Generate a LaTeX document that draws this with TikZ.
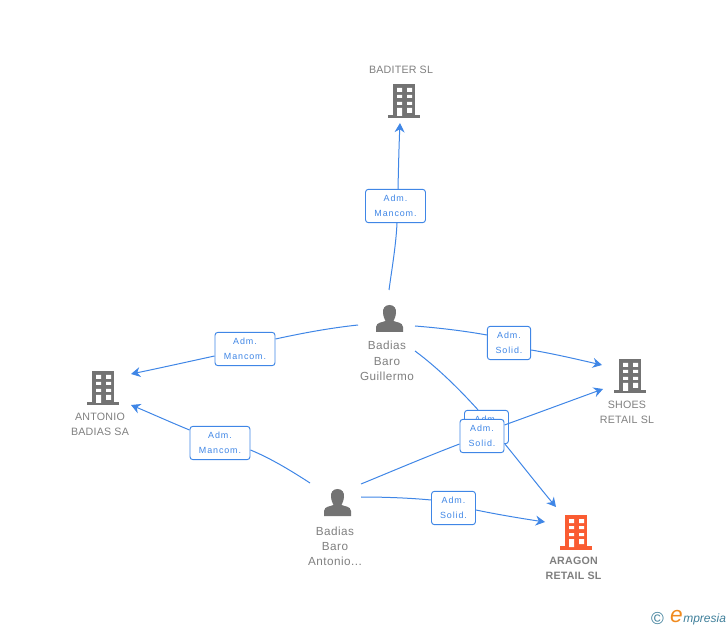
\documentclass[tikz,border=0pt]{standalone}
\usepackage{fontspec}
\setmainfont{Liberation Sans}
\newfontfamily\boxfont[LetterSpace=10]{Liberation Sans}
\newfontfamily\namefont[LetterSpace=2]{Liberation Sans}
\newfontfamily\personfont[LetterSpace=4]{Liberation Sans}
\usetikzlibrary{arrows.meta}
\definecolor{linkblue}{HTML}{3F86E6}
\definecolor{icongray}{HTML}{737373}
\definecolor{textgray}{HTML}{7F7F7F}
\definecolor{iconred}{HTML}{FA5C32}
\definecolor{logoteal}{HTML}{3F7F9A}
\definecolor{logoorange}{HTML}{F08A1E}
\tikzset{
	rolebox/.style={draw=linkblue,fill=white,rounded corners=2.2pt,line width=0.7pt,inner sep=0pt,
		text=linkblue,align=center,font=\boxfont\fontsize{6.7}{11.2}\selectfont},
	nametext/.style={text=textgray,align=center,inner sep=0pt,font=\namefont\fontsize{8}{11.3}\selectfont},
	persontext/.style={text=textgray,align=center,inner sep=0pt,font=\personfont\fontsize{8.8}{11.4}\selectfont},
	link/.style={draw=linkblue,line width=0.75pt},
	linkto/.style={link,-{Stealth[length=7pt,width=7.5pt]}},
	pics/building/.style={code={
		\fill[#1] (-11,-17) rectangle (11,15);
		\fill[#1] (-16,14) rectangle (16,17.5);
		\fill[white] (-7,-13) rectangle (-2,-9) (3,-13) rectangle (8,-9)
			(-7,-6) rectangle (-2,-3) (3,-6) rectangle (8,-3)
			(-7,1) rectangle (-2,4) (3,1) rectangle (8,4)
			(-7,7) rectangle (-2,15) (3,7) rectangle (8,12);
	}},
	pics/person/.style={code={
		\fill[icongray] (0,-14) .. controls (-5,-14) and (-7,-10) .. (-6.5,-6)
			.. controls (-6,-2) and (-5,0) .. (-4,2)
			.. controls (-7,3.5) and (-13,3) .. (-13.5,8) -- (-13.5,13) -- (13.5,13) -- (13.5,8)
			.. controls (13,3) and (7,3.5) .. (4,2)
			.. controls (5,0) and (6,-2) .. (6.5,-6)
			.. controls (7,-10) and (5,-14) .. (0,-14) -- cycle;
	}}
}
\begin{document}
\begin{tikzpicture}[x=0.75pt,y=-0.75pt]
	\useasboundingbox (0,0) rectangle (728,630);
	% icons
	\pic at (404,101) {building=icongray};
	\pic at (103,388) {building=icongray};
	\pic at (630,376) {building=icongray};
	\pic at (576,532) {building=iconred};
	\pic at (389.5,319) {person};
	\pic at (337.5,503) {person};
	% names
	\node[nametext] (baditer) at (401,70) {BADITER SL};
	\node[nametext] (antonio) at (100,424.5) {ANTONIO\\BADIAS SA};
	\node[nametext] (shoes) at (627,412.5) {SHOES\\RETAIL SL};
	\node[nametext,font=\namefont\fontsize{8}{11.3}\selectfont\bfseries] (aragon) at (573.5,568) {ARAGON\\RETAIL SL};
	\node[persontext] (guillermo) at (387,361) {Badias\\Baro\\Guillermo};
	\node[persontext] (badias) at (335,546.5) {Badias\\Baro\\Antonio...};
	% role boxes
	\node[rolebox,minimum width=45pt,minimum height=25pt] (mancomtop) at (395.5,206) {Adm.\\Mancom.};
	\node[rolebox,minimum width=45pt,minimum height=25pt] (mancomleft) at (245,349) {Adm.\\Mancom.};
	\node[rolebox,minimum width=45pt,minimum height=25pt] (mancomlow) at (220,443) {Adm.\\Mancom.};
	\node[rolebox,minimum width=32.5pt,minimum height=25pt] (solidright) at (509,343) {Adm.\\Solid.};
	\node[rolebox,minimum width=33pt,minimum height=25pt] (solidback) at (486.5,427) {Adm.\\Solid.};
	\node[rolebox,minimum width=33pt,minimum height=25pt] (solidfront) at (482,436) {Adm.\\Solid.};
	\node[rolebox,minimum width=33pt,minimum height=25pt] (solidlow) at (453.5,508) {Adm.\\Solid.};
	% free ends
	\coordinate (gnorth) at (389,290);
	\coordinate (gwest) at (358,325);
	\coordinate (geast) at (415,326);
	\coordinate (gsouth) at (415,351);
	\coordinate (bnorth) at (310,483);
	\coordinate (bsouth) at (361,484);
	\coordinate (beast) at (361,497);
	\coordinate (tobaditer) at (400,123);
	\coordinate (toantonioa) at (131,374);
	\coordinate (toantoniob) at (131,405);
	\coordinate (toshoesa) at (602,365);
	\coordinate (toshoesb) at (603,389);
	\coordinate (toaragona) at (556,507);
	\coordinate (toaragonb) at (545,522);
	% connectors
	\draw[link] (gnorth) .. controls (392,268) and (396,245) .. (397,0|-mancomtop.south);
	\draw[linkto] (398,0|-mancomtop.north) .. controls (398.5,167) and (399,145) .. (tobaditer);
	\draw[link] (gwest) .. controls (330,328) and (303,333) .. (mancomleft.east|-0,339);
	\draw[linkto] (mancomleft.west|-0,356) .. controls (187,362) and (160,368) .. (toantonioa);
	\draw[link] (geast) .. controls (440,328) and (465,331) .. (solidright.west|-0,335);
	\draw[linkto] (solidright.east|-0,350) .. controls (555,354) and (580,360) .. (toshoesa);
	\draw[link] (gsouth) .. controls (438,368) and (460,390) .. (478,0|-solidback.north);
	\draw[linkto] (505,0|-solidback.south) .. controls (522,465) and (540,488) .. (toaragona);
	\draw[link] (bnorth) .. controls (290,470) and (270,458) .. (mancomlow.east|-0,450);
	\draw[linkto] (mancomlow.west|-0,430) .. controls (170,422) and (150,413) .. (toantoniob);
	\draw[link] (bsouth) .. controls (395,470) and (428,456) .. (solidfront.west|-0,444);
	\draw[linkto] (solidfront.east|-0,425) .. controls (535,414) and (570,401) .. (toshoesb);
	\draw[link] (beast) .. controls (385,497) and (410,498) .. (solidlow.west|-0,500);
	\draw[linkto] (solidlow.east|-0,510) .. controls (500,515) and (525,519) .. (toaragonb);
	% logo
	\node[inner sep=0pt,text=logoteal,font=\fontsize{13}{14}\selectfont] (copyr) at (657.5,619) {\textcopyright};
	\node[inner sep=0pt,anchor=base west,text=logoteal,font=\fontsize{9}{10}\selectfont\itshape] (logo) at (683,622) {mpresia};
	\node[inner sep=0pt,anchor=base east,text=logoorange,font=\fontsize{17}{18}\selectfont\itshape] (logoe) at (logo.base west) {e};
\end{tikzpicture}
\end{document}
